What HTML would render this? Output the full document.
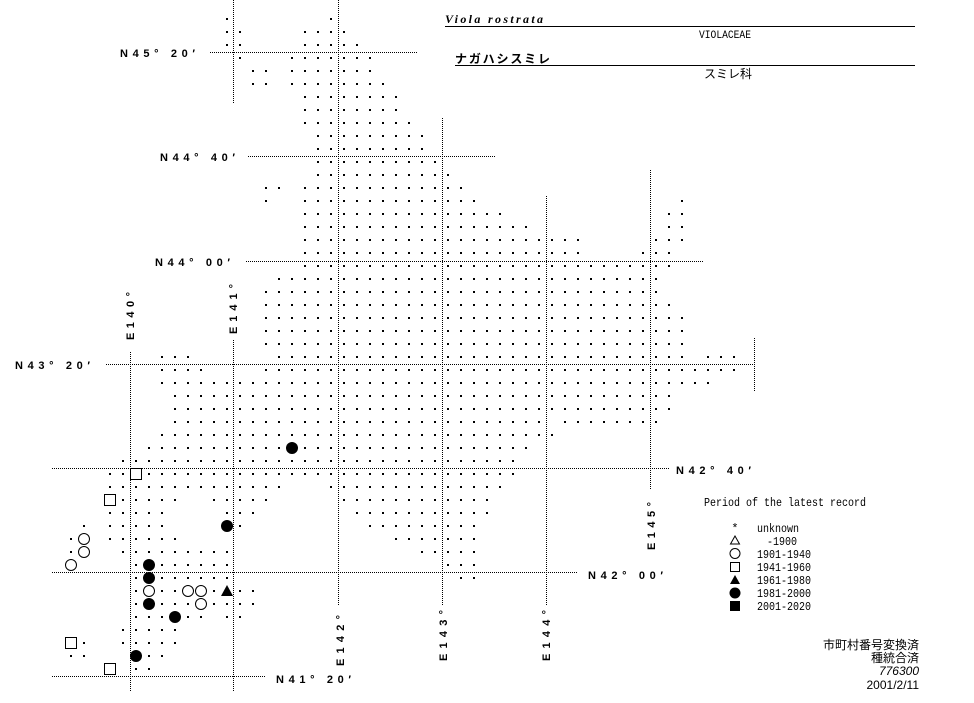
<!DOCTYPE html>
<html><head><meta charset="utf-8"><style>
html,body{margin:0;padding:0;background:#fff;}
svg{display:block;}
.lab{font-family:"Liberation Sans",sans-serif;font-weight:bold;font-size:11px;fill:#000;}
.mono{font-family:"Liberation Mono","DejaVu Sans Mono",monospace;font-size:12px;fill:#000;}
.jp{font-family:"Liberation Sans","Noto Sans CJK JP",sans-serif;font-size:12px;fill:#000;}
</style></head><body>
<svg id="s" width="974" height="703" xmlns="http://www.w3.org/2000/svg">
<g stroke="#000" stroke-width="1" stroke-dasharray="1 1" fill="none">
<line x1="233.5" y1="0" x2="233.5" y2="104"/>
<line x1="233.5" y1="340" x2="233.5" y2="692"/>
<line x1="338.5" y1="0" x2="338.5" y2="606"/>
<line x1="442.5" y1="118" x2="442.5" y2="606"/>
<line x1="546.5" y1="196" x2="546.5" y2="606"/>
<line x1="650.5" y1="170" x2="650.5" y2="490"/>
<line x1="754.5" y1="338" x2="754.5" y2="392"/>
<line x1="130.5" y1="352" x2="130.5" y2="692"/>
<line x1="210" y1="52.5" x2="417" y2="52.5"/>
<line x1="248" y1="156.5" x2="495" y2="156.5"/>
<line x1="246" y1="261.5" x2="703" y2="261.5"/>
<line x1="106" y1="364.5" x2="756" y2="364.5"/>
<line x1="52" y1="468.5" x2="670" y2="468.5"/>
<line x1="52" y1="572.5" x2="578" y2="572.5"/>
<line x1="52" y1="676.5" x2="265" y2="676.5"/>
</g>
<g id="dots" fill="#000"></g>
<g id="marks"></g>
<g class="lab">
<text x="120" y="57" textLength="75" lengthAdjust="spacing">N45° 20′</text>
<text x="160" y="161" textLength="75" lengthAdjust="spacing">N44° 40′</text>
<text x="155" y="266" textLength="75" lengthAdjust="spacing">N44° 00′</text>
<text x="15" y="369" textLength="75" lengthAdjust="spacing">N43° 20′</text>
<text x="676" y="474" textLength="75" lengthAdjust="spacing">N42° 40′</text>
<text x="588" y="579" textLength="75" lengthAdjust="spacing">N42° 00′</text>
<text x="276" y="683" textLength="75" lengthAdjust="spacing">N41° 20′</text>
<text transform="translate(134,340) rotate(-90)" textLength="48" lengthAdjust="spacing">E140°</text>
<text transform="translate(237,334) rotate(-90)" textLength="50" lengthAdjust="spacing">E141°</text>
<text transform="translate(344,666) rotate(-90)" textLength="51" lengthAdjust="spacing">E142°</text>
<text transform="translate(447,661) rotate(-90)" textLength="51" lengthAdjust="spacing">E143°</text>
<text transform="translate(550,661) rotate(-90)" textLength="51" lengthAdjust="spacing">E144°</text>
<text transform="translate(655,550) rotate(-90)" textLength="48" lengthAdjust="spacing">E145°</text>
</g>
<text x="445" y="23" style="font-family:'Liberation Serif',serif;font-style:italic;font-weight:bold;font-size:12px" textLength="98" lengthAdjust="spacing">Viola rostrata</text>
<line x1="445" y1="26.5" x2="915" y2="26.5" stroke="#000"/>
<text x="699" y="38" class="mono" style="font-size:11px" textLength="52" lengthAdjust="spacingAndGlyphs">VIOLACEAE</text>
<text x="455" y="63" class="jp" style="font-weight:bold" textLength="95" lengthAdjust="spacing">ナガハシスミレ</text>
<line x1="455" y1="65.5" x2="915" y2="65.5" stroke="#000"/>
<text x="704" y="78" class="jp">スミレ科</text>
<text x="704" y="506" class="mono" textLength="162" lengthAdjust="spacingAndGlyphs">Period of the latest record</text>
<g class="mono">
<text x="757" y="532" textLength="42" lengthAdjust="spacingAndGlyphs">unknown</text>
<text x="767" y="545" textLength="30" lengthAdjust="spacingAndGlyphs">-1900</text>
<text x="757" y="558" textLength="54" lengthAdjust="spacingAndGlyphs">1901-1940</text>
<text x="757" y="571" textLength="54" lengthAdjust="spacingAndGlyphs">1941-1960</text>
<text x="757" y="584" textLength="54" lengthAdjust="spacingAndGlyphs">1961-1980</text>
<text x="757" y="597" textLength="54" lengthAdjust="spacingAndGlyphs">1981-2000</text>
<text x="757" y="610" textLength="54" lengthAdjust="spacingAndGlyphs">2001-2020</text>
</g>
<text x="735" y="532" text-anchor="middle" class="mono">*</text>
<polygon points="735,536 730.5,544 739.5,544" fill="none" stroke="#000"/>
<circle cx="735" cy="553.5" r="5" fill="none" stroke="#000"/>
<rect x="730.5" y="562.5" width="9" height="9" fill="none" stroke="#000"/>
<polygon points="735,575 730,584 740,584" fill="#000"/>
<circle cx="735" cy="593" r="5.5" fill="#000"/>
<rect x="730" y="601" width="10" height="10" fill="#000"/>
<g class="jp" text-anchor="end">
<text x="919" y="649">市町村番号変換済</text>
<text x="919" y="662">種統合済</text>
<text x="919" y="675" style="font-style:italic">776300</text>
<text x="919" y="689">2001/2/11</text>
</g>
</svg>
<script>
var R={0:[[-6],[2]],1:[[-6,-5],[0,3]],2:[[-6,-5],[0,4]],3:[[-5],[-1,5]],4:[[-4,-3],[-1,5]],5:[[-4,-3],[-1,6]],
6:[[0,7]],7:[[0,7]],8:[[0,8]],9:[[1,9]],10:[[1,9]],11:[[1,10]],12:[[1,11]],13:[[-3,-2],[0,12]],
14:[[-3],[0,13],[29]],15:[[0,15],[28,29]],16:[[0,17],[28,29]],17:[[0,21],[27,29]],18:[[0,21],[26,28]],
19:[[0,28]],20:[[-2,27]],21:[[-3,27]],22:[[-3,28]],23:[[-3,29]],24:[[-3,29]],25:[[-3,29]],
26:[[-11,-9],[-2,29],[31,33]],27:[[-11,-8],[-3,33]],28:[[-11,31]],29:[[-10,28]],30:[[-10,28]],
31:[[-10,18],[20,27]],32:[[-11,19]],33:[[-12,-2],[0,17]],34:[[-14,16]],35:[[-15,-14],[-12,16]],
36:[[-15,-2],[2,15]],37:[[-14,-10],[-7,-3],[3,14]],38:[[-15,-11],[-6,-4],[4,14]],
39:[[-17],[-15,-11],[-5],[5,13]],40:[[-18],[-15,-10],[7,13]],41:[[-18],[-14,-6],[9,13]],
42:[[-13],[-11,-6],[11,13]],43:[[-13],[-11,-6],[12,13]],44:[[-13],[-11,-10],[-7],[-5,-4]],
45:[[-13],[-11,-9],[-7,-4]],46:[[-13,-11],[-9,-8],[-6,-5]],47:[[-14,-10]],48:[[-17],[-14,-10]],
49:[[-18,-17],[-12,-11]],50:[[-13,-12]]};
var g=document.getElementById("dots"),h="";
for(var j in R){R[j].forEach(function(r){var a=r[0],b=r.length>1?r[1]:r[0];
for(var k=a;k<=b;k++){var x=305+13*k,y=19+13*j;h+='<rect x="'+(x-1)+'" y="'+(y-1)+'" width="2" height="2"/>';}});}
g.innerHTML=h;
var M=[["F",-1,33],["S",-13,35],["S",-15,37],["F",-6,39],["O",-17,40],["O",-17,41],["O",-18,42],["F",-12,42],
["F",-12,43],["O",-12,44],["O",-9,44],["O",-8,44],["T",-6,44],["F",-12,45],["O",-8,45],["F",-10,46],
["S",-18,48],["F",-13,49],["S",-15,50]];
var m="";M.forEach(function(e){var x=305+13*e[1],y=19+13*e[2];
if(e[0]=="F")m+='<circle cx="'+x+'" cy="'+y+'" r="6" fill="#000"/>';
else if(e[0]=="O")m+='<circle cx="'+x+'" cy="'+y+'" r="5.5" fill="#fff" stroke="#000"/>';
else if(e[0]=="S")m+='<rect x="'+(x-5.5)+'" y="'+(y-5.5)+'" width="11" height="11" fill="#fff" stroke="#000"/>';
else m+='<polygon points="'+x+','+(y-6)+' '+(x-6)+','+(y+5)+' '+(x+6)+','+(y+5)+'" fill="#000"/>';});
document.getElementById("marks").innerHTML=m;
</script>
</body></html>
